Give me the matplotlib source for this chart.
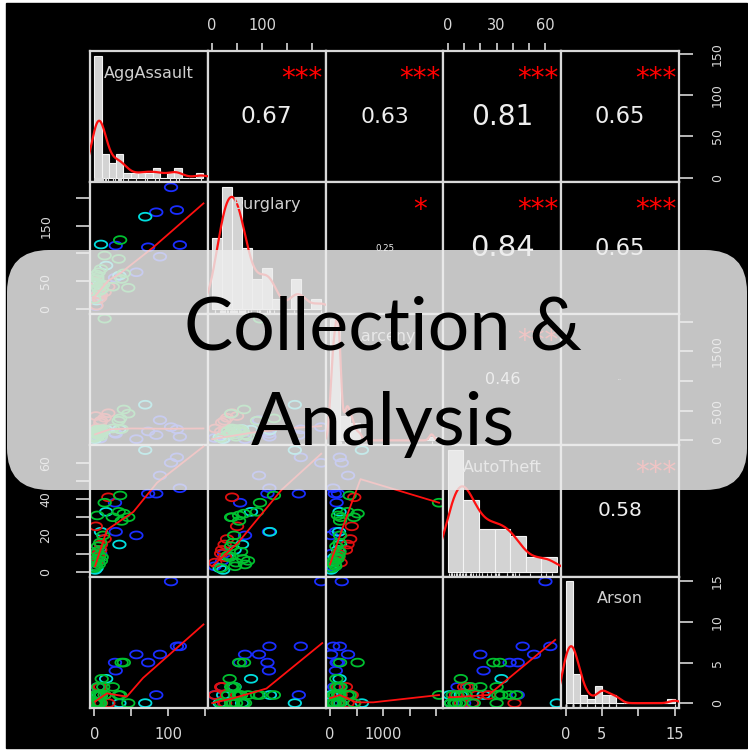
import numpy as np
import matplotlib
matplotlib.use("Agg")
import matplotlib.pyplot as plt
from matplotlib.patches import FancyBboxPatch, Rectangle
from matplotlib.path import Path

names = ["AggAssault", "Burglary", "Larceny", "AutoTheft", "Arson"]

# one value per city
agg = [104, 112, 89, 116, 73, 84, 57, 28, 29, 2, 5, 8,
       69, 9, 16, 34, 3, 6, 7, 1,
       19, 14, 8, 5, 3, 9, 2, 6,
       35, 40, 37, 4, 33, 46, 25, 10, 1, 2, 3, 4, 5, 6, 7, 8, 9, 12, 0, 14, 147]
burg = [219, 178, 94, 115, 111, 174, 66, 56, 114, 5, 20, 24,
        166, 116, 78, 60, 15, 30, 45, 22,
        40, 30, 20, 26, 6, 25, 50, 18,
        124, 64, 54, 54, 90, 38, 40, 35, 48, 46, 62, 58, 38, 66, 32, 42, 72, 44, 18, 96, np.nan]
larc = [222, 185, 340, 60, 150, 90, 20, 125, 110, 40, 80, 30,
        600, 170, 180, 190, 50, 90, 150, 20,
        457, 380, 300, 160, 200, 330, 410, 150,
        370, 520, 190, 150, 330, 450, 200, 120, 60, 100, 140, 180, 120, 90, 160, 180, 70, 190, 40, 2050, np.nan]
auto = [60, 63, 53, 46, 43, 43, 20, 38, 22, 3, 6, 10,
        67, 22, 33, 15, 2, 8, 12, 1,
        41, 18, 12, 8, 5, 15, 25, 10,
        42, 32, 28, 31, 33, 30, 30, 8, 5, 3, 7, 11, 14, 4, 9, 16, 6, 20, 2, 38, np.nan]
arson = [15, 7, 6, 7, 5, 1, 6, 5, 4, 1, 2, 0,
         0, 1, 3, 0, 0, 1, 2, 1,
         0, 1, 2, 0, 1, 0, 1, 2,
         1, 5, 5, 1, 1, 0, 2, 3, 0, 1, 0, 1, 2, 0, 1, 0, 1, 2, 0, 1, np.nan]
group = [3, 3, 3, 3, 3, 3, 3, 3, 3, 3, 3, 3,
         4, 4, 4, 4, 4, 4, 4, 4,
         1, 1, 1, 1, 1, 1, 1, 1,
         2, 2, 2, 2, 2, 2, 2, 2, 2, 2, 2, 2, 2, 2, 2, 2, 2, 2, 2, 2, 3]
group_colors = {1: "#e01010", 2: "#00c030", 3: "#1a2eff", 4: "#00dede"}

# axis ranges and histogram breaks
lims = [(-5.9, 153.9), (-8.8, 227.8), (-82, 2132), (-2.7, 69.7), (-0.6, 15.6)]
breaks = [np.arange(0, 151, 10), np.arange(0, 221, 20), np.arange(0, 2201, 200),
          np.arange(0, 71, 10), np.arange(0, 16, 1)]

# upper panels
corr = {(0, 1): "0.67", (0, 2): "0.63", (0, 3): "0.81", (0, 4): "0.65",
        (1, 2): "0.25", (1, 3): "0.84", (1, 4): "0.65",
        (2, 3): "0.46", (2, 4): "0.05", (3, 4): "0.58"}
stars = {(0, 1): "***", (0, 2): "***", (0, 3): "***", (0, 4): "***",
         (1, 2): "*", (1, 3): "***", (1, 4): "***",
         (2, 3): "***", (2, 4): "", (3, 4): "***"}

# red smoothers of the lower panels, (row, col): (x, y)
smooth = {
    (1, 0): ([1, 19, 37, 80, 148], [23, 51, 66, 111, 190]),
    (2, 0): ([1, 21, 50, 100, 148], [100, 185, 200, 195, 200]),
    (2, 1): ([0, 80, 150, 219], [20, 130, 200, 240]),
    (3, 0): ([1, 17, 53, 85, 148], [3, 23, 33, 49, 69]),
    (3, 1): ([0, 52, 139, 219], [3, 16, 45, 65]),
    (3, 2): ([0, 296, 574, 2050], [4, 29, 51, 38]),
    (4, 0): ([1, 17, 44, 66, 148], [0.2, 1.2, 0.8, 3.1, 9.7]),
    (4, 1): ([0, 42, 109, 221], [0, 0.6, 1.8, 7.4]),
    (4, 2): ([0, 185, 490, 815, 2050], [0.6, 1.0, 0.1, 0.1, 1.0]),
    (4, 3): ([0.6, 25, 66], [0.7, 1.0, 7.8]),
}

# outer axes: panel -> (side, tick positions, tick labels)
outer_ticks = {
    (0, 1): ("top", [0, 50, 100, 150, 200], ["0", "", "100", "", ""]),
    (0, 3): ("top", [0, 10, 20, 30, 40, 50, 60], ["0", "", "", "30", "", "", "60"]),
    (0, 4): ("right", [0, 50, 100, 150], ["0", "50", "100", "150"]),
    (2, 4): ("right", [0, 500, 1000, 1500, 2000], ["0", "500", "", "1500", ""]),
    (4, 4): ("right", [0, 5, 10, 15], ["0", "5", "10", "15"]),
    (1, 0): ("left", [0, 50, 100, 150, 200], ["0", "50", "", "150", ""]),
    (3, 0): ("left", [0, 10, 20, 30, 40, 50, 60], ["0", "", "20", "", "40", "", "60"]),
}
bottom_ticks = {
    0: ([0, 50, 100, 150], ["0", "", "100", ""]),
    2: ([0, 500, 1000, 1500, 2000], ["0", "", "1000", "", ""]),
    4: ([0, 5, 10, 15], ["0", "5", "", "15"]),
}

data = [np.array(v, float) for v in (agg, burg, larc, auto, arson)]
colors = [group_colors[g] for g in group]

W, H = 748, 750
fg = "#d8d8d8"
xe = np.linspace(90, 679, 6)
ye = np.linspace(51, 708, 6)


def px_rect(x0, y0, x1, y1):
    return [x0 / W, 1 - y1 / H, (x1 - x0) / W, (y1 - y0) / H]


def r_hist(x, edges):
    # right-closed bins like R's hist()
    idx = np.clip(np.searchsorted(edges, x, side="left"), 1, len(edges) - 1)
    counts = np.bincount(idx - 1, minlength=len(edges) - 1)
    return counts / (len(x) * np.diff(edges))


def density(x):
    n = len(x)
    q75, q25 = np.percentile(x, [75, 25])
    bw = 0.9 * min(np.std(x, ddof=1), (q75 - q25) / 1.34) * n ** -0.2
    grid = np.linspace(x.min() - 3 * bw, x.max() + 3 * bw, 512)
    d = np.exp(-0.5 * ((grid[:, None] - x[None, :]) / bw) ** 2).sum(1)
    return grid, d / (n * bw * np.sqrt(2 * np.pi))


t = np.linspace(0, 2 * np.pi, 41)
ring = Path(np.c_[1.6 * np.cos(t), np.sin(t)], closed=True)

fig = plt.figure(figsize=(W / 100, H / 100), dpi=100, facecolor="white")
fig.patches.append(Rectangle((6 / W, 2 / H), 741 / W, 745 / H, transform=fig.transFigure,
                             color="black", zorder=-5))

for i in range(5):
    for j in range(5):
        ax = fig.add_axes(px_rect(xe[j], ye[i], xe[j + 1], ye[i + 1]))
        ax.set_facecolor("black")
        ax.set_xlim(lims[j])
        ax.set_ylim(lims[i])
        ax.set_xticks([])
        ax.set_yticks([])
        for s in ax.spines.values():
            s.set_color(fg)
            s.set_linewidth(1.6)

        if i > j:
            x, y = data[j], data[i]
            ax.scatter(x, y, marker=ring, s=9 ** 2, facecolors="none",
                       edgecolors=colors, linewidths=1.3, zorder=2)
            sx, sy = smooth[(i, j)]
            ax.plot(sx, sy, color="#ff1010", lw=1.3, zorder=3)
        elif i < j:
            r = float(corr[(i, j)])
            ax.text(0.5, 0.5, corr[(i, j)], transform=ax.transAxes, ha="center", va="center",
                    fontsize=25 * r, color="#eeeeee")
            ax.text(0.8, 0.79, stars[(i, j)], transform=ax.transAxes, ha="center", va="center",
                    fontsize=20, color="#ff0000", clip_on=True)
        else:
            x = data[i][~np.isnan(data[i])]
            edges = breaks[i]
            dens = r_hist(x, edges)
            h = fig.add_axes(ax.get_position(), zorder=ax.get_zorder() + 0.5)
            h.patch.set_alpha(0)
            h.axis("off")
            span = edges[-1] - edges[0]
            h.set_xlim(edges[0] - 0.04 * span, edges[-1] + 0.04 * span)
            h.set_ylim(-0.04 * dens.max(), 1.04 * dens.max())
            h.bar(edges[:-1], dens, width=np.diff(edges), align="edge",
                  color="#d3d3d3", edgecolor="#f4f4f4", linewidth=0.8)
            gx, gy = density(x)
            h.plot(gx, gy, color="#ff1010", lw=1.6)
            h.vlines(x, 0, 0.03, transform=h.get_xaxis_transform(), color=fg, lw=0.8)
            h.text(0.5, 0.83, names[i], transform=h.transAxes, ha="center", va="center",
                   fontsize=11.5, color="#d0d0d0")

        if (i, j) in outer_ticks:
            side, pos, labs = outer_ticks[(i, j)]
            if side == "top":
                ax.set_xticks(pos)
                ax.set_xticklabels(labs)
                ax.tick_params(axis="x", top=True, bottom=False, labeltop=True, labelbottom=False,
                               length=6, width=1.2, color=fg, labelcolor=fg, labelsize=10.5, pad=7)
            else:
                ax.set_yticks(pos)
                ax.set_yticklabels(labs, rotation=90, va="center")
                left = side == "left"
                ax.tick_params(axis="y", left=left, right=not left, labelleft=left,
                               labelright=not left, length=10, width=1.2, color=fg,
                               labelcolor=fg, labelsize=9, pad=17 if left else 13)
        if i == 4 and j in bottom_ticks:
            pos, labs = bottom_ticks[j]
            ax.set_xticks(pos)
            ax.set_xticklabels(labs)
            ax.tick_params(axis="x", bottom=True, labelbottom=True, length=6, width=1.2,
                           color=fg, labelcolor=fg, labelsize=10.5, pad=8)

# title banner laid over the matrix
ov = fig.add_axes([0, 0, 1, 1], zorder=50)
ov.set_xlim(0, W)
ov.set_ylim(H, 0)
ov.axis("off")
ov.patch.set_alpha(0)
ov.add_patch(FancyBboxPatch((7, 250), 740, 240, boxstyle="round,pad=0,rounding_size=42",
                            facecolor="#ededed", edgecolor="none", alpha=0.83))
ov.text(383, 350, "Collection &", ha="center", va="baseline", fontsize=53,
        family=["Lato", "DejaVu Sans"], color="black")
ov.text(383, 445, "Analysis", ha="center", va="baseline", fontsize=53,
        family=["Lato", "DejaVu Sans"], color="black")

fig.savefig("out.png", dpi=100, facecolor=fig.get_facecolor())
